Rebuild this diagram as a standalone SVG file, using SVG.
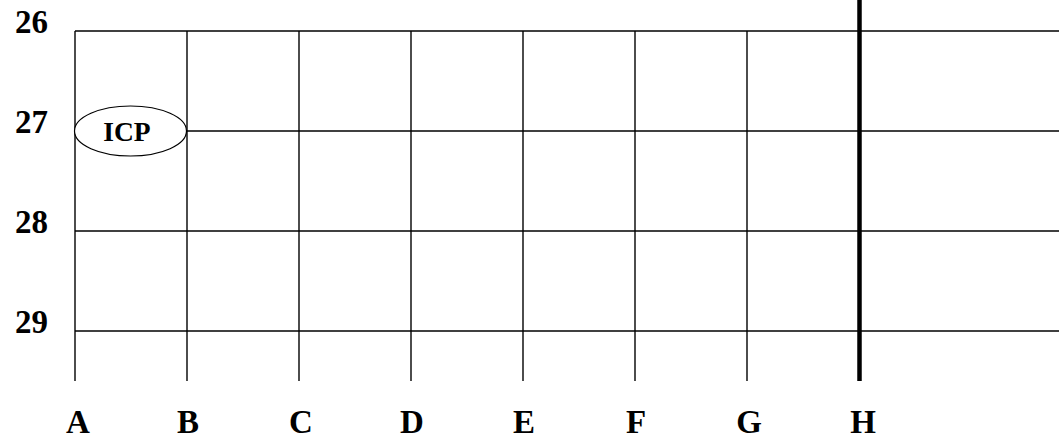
<svg xmlns="http://www.w3.org/2000/svg" width="1059" height="442" viewBox="0 0 1059 442">
<style>
.g{stroke:#000;stroke-width:1.4;fill:none}
.t{font-family:"Liberation Serif","Times New Roman",serif;font-weight:bold;font-size:33px;fill:#000}
</style>
<rect width="1059" height="442" fill="#fff"/>
<g id="grid" class="g">
<line x1="75" y1="31" x2="1059" y2="31"/>
<line x1="75" y1="131" x2="1059" y2="131"/>
<line x1="75" y1="231" x2="1059" y2="231"/>
<line x1="75" y1="331" x2="1059" y2="331"/>
<line x1="75" y1="31" x2="75" y2="381"/>
<line x1="187" y1="31" x2="187" y2="381"/>
<line x1="299" y1="31" x2="299" y2="381"/>
<line x1="411" y1="31" x2="411" y2="381"/>
<line x1="523" y1="31" x2="523" y2="381"/>
<line x1="635" y1="31" x2="635" y2="381"/>
<line x1="747" y1="31" x2="747" y2="381"/>
<line x1="859.5" y1="0" x2="859.5" y2="381" stroke-width="4.5"/>
</g>
<g id="rows" class="t">
<text x="15" y="33">26</text>
<text x="15" y="133">27</text>
<text x="15" y="233">28</text>
<text x="15" y="333">29</text>
</g>
<g id="cols" class="t" text-anchor="middle">
<text x="78" y="433">A</text>
<text x="188" y="433">B</text>
<text x="301" y="433">C</text>
<text x="412" y="433">D</text>
<text x="524" y="433">E</text>
<text x="636" y="433">F</text>
<text x="749" y="433">G</text>
<text x="863" y="433">H</text>
</g>
<g id="icp">
<ellipse cx="130.5" cy="131" rx="56" ry="25" fill="#fff" stroke="#000" stroke-width="1.2"/>
<text x="127" y="141" class="t" style="font-size:27.5px" text-anchor="middle">ICP</text>
</g>
</svg>
